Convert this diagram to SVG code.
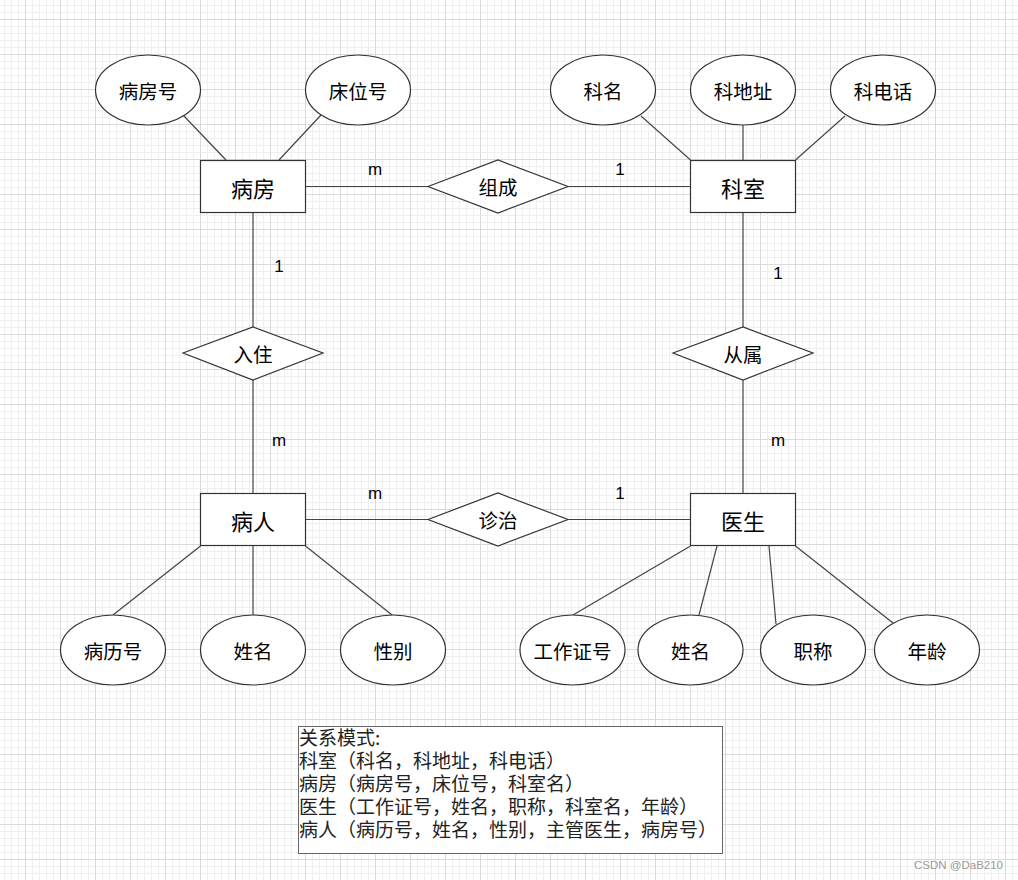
<svg xmlns="http://www.w3.org/2000/svg" width="1018" height="880" viewBox="0 0 1018 880">
<defs>
<pattern id="grid" x="25" y="19" width="35" height="35" patternUnits="userSpaceOnUse">
<path d="M7.5 0V35M14.5 0V35M21.5 0V35M28.5 0V35M0 7.5H35M0 14.5H35M0 21.5H35M0 28.5H35" stroke="#efefef" stroke-width="1" fill="none"/>
<path d="M0.5 0V35M0 0.5H35" stroke="#dadada" stroke-width="1" fill="none"/>
</pattern>
<style>
.shape{fill:#fff;stroke:#333;stroke-width:1.2}
.edge{stroke:#444;stroke-width:1.2;fill:none}
.cjk{font-family:"Microsoft YaHei","Noto Sans CJK SC",sans-serif;fill:#000;text-anchor:middle;dominant-baseline:central}
.ent{font-size:22px}
.att{font-size:19.5px}
.card{font-family:"Liberation Sans",Arial,sans-serif;font-size:17px;fill:#000;text-anchor:middle}
.note{font-family:"Microsoft YaHei","Noto Sans CJK SC",sans-serif;font-size:19px;fill:#222}
</style>
</defs>
<rect width="1018" height="880" fill="#fff"/>
<rect width="1018" height="880" fill="url(#grid)"/>

<g id="connectors">
<path class="edge" d="M183 115L226 160"/>
<path class="edge" d="M321 115L279 160"/>
<path class="edge" d="M641 116L690.5 160"/>
<path class="edge" d="M743 125V160"/>
<path class="edge" d="M845 116L795.5 160"/>
<path class="edge" d="M305.5 186.5H428"/>
<path class="edge" d="M568 186.5H690.5"/>
<path class="edge" d="M253 213V327"/>
<path class="edge" d="M253 380V493"/>
<path class="edge" d="M743 213V327"/>
<path class="edge" d="M743 380V493"/>
<path class="edge" d="M305.5 519.5H428"/>
<path class="edge" d="M568 519.5H690.5"/>
<path class="edge" d="M200.5 546L113 615"/>
<path class="edge" d="M253 546V615"/>
<path class="edge" d="M305.5 546L392 615"/>
<path class="edge" d="M690.5 546L573 615"/>
<path class="edge" d="M717 546L699 615"/>
<path class="edge" d="M769 546L776 624"/>
<path class="edge" d="M795.5 546L893 623"/>
<text class="card" x="375" y="175">m</text>
<text class="card" x="620" y="175">1</text>
<text class="card" x="279" y="272">1</text>
<text class="card" x="279" y="446">m</text>
<text class="card" x="778" y="279">1</text>
<text class="card" x="778" y="446">m</text>
<text class="card" x="375" y="499">m</text>
<text class="card" x="620" y="499">1</text>
</g>

<g id="bingfang"><rect class="shape" x="200.5" y="160.5" width="105" height="52"/><text class="cjk ent" x="253" y="186.5">病房</text></g>
<g id="keshi"><rect class="shape" x="690.5" y="160.5" width="105" height="52"/><text class="cjk ent" x="743" y="186.5">科室</text></g>
<g id="bingren"><rect class="shape" x="200.5" y="493.5" width="105" height="52"/><text class="cjk ent" x="253" y="519.5">病人</text></g>
<g id="yisheng"><rect class="shape" x="690.5" y="493.5" width="105" height="52"/><text class="cjk ent" x="743" y="519.5">医生</text></g>

<g id="zucheng"><path class="shape" d="M428 186.5L498 160L568 186.5L498 213Z"/><text class="cjk att" x="498" y="186.5">组成</text></g>
<g id="ruzhu"><path class="shape" d="M183 353L253 327L323 353L253 380Z"/><text class="cjk att" x="253" y="353">入住</text></g>
<g id="congshu"><path class="shape" d="M673 353L743 327L813 353L743 380Z"/><text class="cjk att" x="743" y="353">从属</text></g>
<g id="zhenzhi"><path class="shape" d="M428 519.5L498 493L568 519.5L498 546Z"/><text class="cjk att" x="498" y="519.5">诊治</text></g>

<g id="bingfanghao"><ellipse class="shape" cx="148" cy="90" rx="52.5" ry="35"/><text class="cjk att" x="148" y="90">病房号</text></g>
<g id="chuangweihao"><ellipse class="shape" cx="358" cy="90" rx="52.5" ry="35"/><text class="cjk att" x="358" y="90">床位号</text></g>
<g id="keming"><ellipse class="shape" cx="603" cy="90" rx="52.5" ry="35"/><text class="cjk att" x="603" y="90">科名</text></g>
<g id="kedizhi"><ellipse class="shape" cx="743" cy="90" rx="52.5" ry="35"/><text class="cjk att" x="743" y="90">科地址</text></g>
<g id="kedianhua"><ellipse class="shape" cx="883" cy="90" rx="52.5" ry="35"/><text class="cjk att" x="883" y="90">科电话</text></g>

<g id="binglihao"><ellipse class="shape" cx="113" cy="650" rx="52.5" ry="35"/><text class="cjk att" x="113" y="650">病历号</text></g>
<g id="xingming1"><ellipse class="shape" cx="253" cy="650" rx="52.5" ry="35"/><text class="cjk att" x="253" y="650">姓名</text></g>
<g id="xingbie"><ellipse class="shape" cx="393" cy="650" rx="52.5" ry="35"/><text class="cjk att" x="393" y="650">性别</text></g>
<g id="gongzuozhenghao"><ellipse class="shape" cx="572.5" cy="650" rx="52.5" ry="35"/><text class="cjk att" x="572.5" y="650">工作证号</text></g>
<g id="xingming2"><ellipse class="shape" cx="690.5" cy="650" rx="52.5" ry="35"/><text class="cjk att" x="690.5" y="650">姓名</text></g>
<g id="zhicheng"><ellipse class="shape" cx="813" cy="650" rx="52.5" ry="35"/><text class="cjk att" x="813" y="650">职称</text></g>
<g id="nianling"><ellipse class="shape" cx="927" cy="650" rx="52.5" ry="35"/><text class="cjk att" x="927" y="650">年龄</text></g>

<g id="schema">
<rect x="298.5" y="726.5" width="424" height="127" fill="#fff" stroke="#666" stroke-width="1"/>
<text class="note"><tspan x="299" y="745">关系模式:</tspan><tspan x="299" y="768">科室（科名，科地址，科电话）</tspan><tspan x="299" y="791">病房（病房号，床位号，科室名）</tspan><tspan x="299" y="814">医生（工作证号，姓名，职称，科室名，年龄）</tspan><tspan x="299" y="837">病人（病历号，姓名，性别，主管医生，病房号）</tspan></text>
</g>

<text x="1003" y="869" font-family="Liberation Sans, Arial, sans-serif" font-size="11.5" fill="#9a9a9a" text-anchor="end">CSDN @DaB210</text>
</svg>
